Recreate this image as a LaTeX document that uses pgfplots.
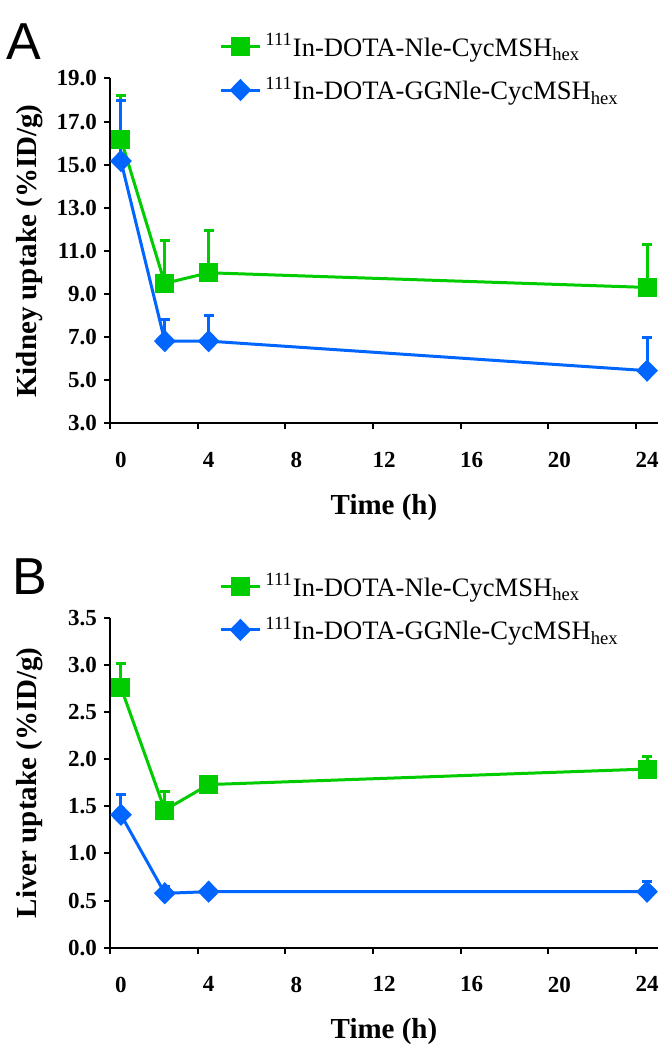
\documentclass[border=0pt]{standalone}
\usepackage{fontspec}
\setmainfont{Liberation Serif}
\newfontfamily\panelfont{Liberation Sans}
\usepackage{pgfplots}
\pgfplotsset{compat=1.18}
\definecolor{sgreen}{RGB}{0,204,0}
\definecolor{sblue}{RGB}{0,102,255}

% kidney uptake (%ID/g): t, mean, +sd
\pgfplotstableread{
t  v     e
0  16.18 2.01
2  9.50  2.00
4  9.99  1.98
24 9.31  2.00
}\kidA
\pgfplotstableread{
t  v     e
0  15.17 2.80
2  6.82  0.98
4  6.82  1.20
24 5.45  1.56
}\kidB
% liver uptake (%ID/g)
\pgfplotstableread{
t  v     e
0  2.76  0.25
2  1.46  0.20
4  1.73  0.06
24 1.895 0.135
}\livA
\pgfplotstableread{
t  v     e
0  1.41  0.22
2  0.577 0.07
4  0.594 0.04
24 0.594 0.105
}\livB

\pgfplotsset{uptake/.style={
  width=274pt, scale only axis,
  axis x line*=bottom, axis y line*=left,
  xmin=-0.5, xmax=24.5,
  xtick={-0.5,3.5,...,23.5}, xticklabels={0,4,8,12,16,20,24},
  xticklabel style={xshift=5.5pt, yshift=-8pt},
  tick align=outside, major tick length=3pt,
  tick style={black, line width=1pt},
  axis line style={line width=1pt},
  ticklabel style={font=\bfseries\fontsize{11.5}{13}\selectfont},
  /pgf/number format/assume math mode=true,
  yticklabel style={/pgf/number format/.cd, fixed, fixed zerofill, precision=1},
  xlabel={Time (h)},
  label style={font=\bfseries\fontsize{14.5}{16}\selectfont},
  legend style={draw=none, fill=none, anchor=north west,
    font=\fontsize{13.3}{15}\selectfont, row sep=5pt, cells={anchor=west}},
  legend image code/.code={\draw[mark repeat=2, mark phase=2]
    plot coordinates {(0pt,0pt) (9.75pt,0pt) (19.5pt,0pt)};},
  every axis plot/.append style={line width=1.5pt},
  error bars/y dir=plus, error bars/y explicit,
  error bars/error bar style={line width=1.5pt},
  error bars/error mark options={rotate=90, mark size=2.5pt, line width=1.5pt},
  clip=false
}}

\begin{document}
\begin{tikzpicture}
\path[use as bounding box] (0,0) rectangle (336pt,525pt);

\begin{axis}[uptake, at={(55pt,313.25pt)}, anchor=south west, height=172.5pt,
  ymin=3, ymax=19, ytick={3,5,...,19},
  ylabel={Kidney uptake (\%ID/g)},
  ylabel style={at={(axis description cs:-0.146,0.5)}, anchor=center},
  xlabel style={at={(axis description cs:0.5,-0.245)}, anchor=center},
  legend style={at={(axis description cs:0.188,1.155)}}]
\addplot[sgreen, mark=square*, mark size=4pt] table[x=t, y=v, y error=e] {\kidA};
\addplot[sblue, mark=diamond*, mark size=4.5pt, mark options={xscale=1.3}] table[x=t, y=v, y error=e] {\kidB};
\legend{\textsuperscript{111}In-DOTA-Nle-CycMSH\textsubscript{hex},
        \textsuperscript{111}In-DOTA-GGNle-CycMSH\textsubscript{hex}}
\end{axis}

\begin{axis}[uptake, at={(55pt,51.15pt)}, anchor=south west, height=165pt,
  ymin=0, ymax=3.5, ytick={0,0.5,...,3.5},
  ylabel={Liver uptake (\%ID/g)},
  ylabel style={at={(axis description cs:-0.146,0.5)}, anchor=center},
  xlabel style={at={(axis description cs:0.5,-0.255)}, anchor=center},
  legend style={at={(axis description cs:0.188,1.16)}}]
\addplot[sgreen, mark=square*, mark size=4pt] table[x=t, y=v, y error=e] {\livA};
\addplot[sblue, mark=diamond*, mark size=4.5pt, mark options={xscale=1.3}] table[x=t, y=v, y error=e] {\livB};
\legend{\textsuperscript{111}In-DOTA-Nle-CycMSH\textsubscript{hex},
        \textsuperscript{111}In-DOTA-GGNle-CycMSH\textsubscript{hex}}
\end{axis}

\node[font=\panelfont\fontsize{26}{30}\selectfont] at (12pt,504pt) {A};
\node[font=\panelfont\fontsize{26}{30}\selectfont] at (15pt,236.5pt) {B};
\end{tikzpicture}
\end{document}
